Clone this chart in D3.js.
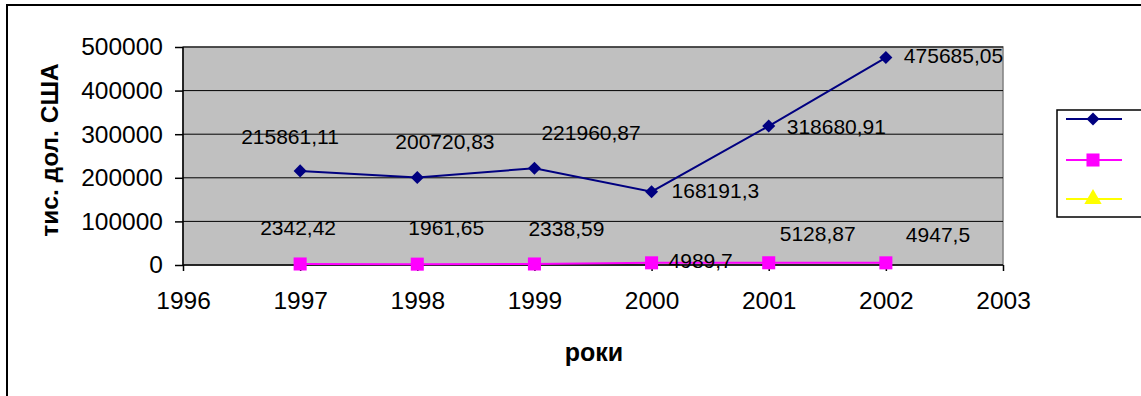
<!DOCTYPE html>
<html><head><meta charset="utf-8">
<script src="https://cdn.jsdelivr.net/npm/d3@7"></script>
<style>body{margin:0;background:#fff}svg{display:block}text{font-family:"Liberation Sans",Arial,sans-serif}</style>
</head><body>
<svg id="c" width="1141" height="396"></svg>
<script>
const years = [1997, 1998, 1999, 2000, 2001, 2002];
const seriesA = [215861.11, 200720.83, 221960.87, 168191.3, 318680.91, 475685.05];
const seriesB = [2342.42, 1961.65, 2338.59, 4989.7, 5128.87, 4947.5];
const seriesC = [];
const labelsA = ["215861,11", "200720,83", "221960,87", "168191,3", "318680,91", "475685,05"];
const labelsB = ["2342,42", "1961,65", "2338,59", "4989,7", "5128,87", "4947,5"];
const xTicks = [1996, 1997, 1998, 1999, 2000, 2001, 2002, 2003];
const yTicks = [0, 100000, 200000, 300000, 400000, 500000];
const yTitle = "тис. дол. США";
const xTitle = "роки";

// label placement offsets (layout only)
const offA = [[-59,-34],[-22,-36],[7,-36],[20,-1],[18,0],[18,-2]];
const offB = [[-40,-36],[-9,-37],[-6,-35],[17,-2],[11,-29],[20,-28]];

const svg = d3.select("#c");
const L = 183, R = 1003, T = 47, B = 265;
const x = d3.scaleLinear().domain([1996, 2003]).range([L, R]);
const y = d3.scaleLinear().domain([0, 500000]).range([B, T]);

// outer frame
svg.append("rect").attr("x", 7).attr("y", 5).attr("width", 1145).attr("height", 400)
  .attr("fill", "#fff").attr("stroke", "#000").attr("stroke-width", 2);

// plot area
svg.append("rect").attr("x", L).attr("y", T).attr("width", R - L).attr("height", B - T)
  .attr("fill", "#C0C0C0").attr("stroke", "#808080").attr("stroke-width", 1.5);

// gridlines
svg.append("g").selectAll("line").data(yTicks.filter(d => d > 0)).join("line")
  .attr("x1", L).attr("x2", R).attr("y1", d => y(d)).attr("y2", d => y(d))
  .attr("stroke", "#000").attr("stroke-width", 1);

// axes
const yAxis = d3.axisLeft(y).tickValues(yTicks).tickFormat(d3.format("d")).tickSize(8).tickPadding(12);
const gy = svg.append("g").attr("transform", `translate(${L},0)`).call(yAxis);
gy.select(".domain").attr("stroke", "#000").attr("stroke-width", 1.5).attr("d", `M0,${T}V${B}`);
gy.selectAll(".tick line").attr("stroke", "#000").attr("stroke-width", 1.5);
gy.selectAll("text").attr("font-size", 24.5).attr("fill", "#000").attr("font-family", '"Liberation Sans",Arial,sans-serif');

const xAxis = d3.axisBottom(x).tickValues(xTicks).tickFormat(d3.format("d")).tickSize(6).tickPadding(21);
const gx = svg.append("g").attr("transform", `translate(0,${B})`).call(xAxis);
gx.select(".domain").attr("stroke", "#000").attr("stroke-width", 1.5).attr("d", `M${L},0H${R}`);
gx.selectAll(".tick line").attr("stroke", "#000").attr("stroke-width", 1.5);
gx.selectAll("text").attr("font-size", 24.5).attr("fill", "#000").attr("font-family", '"Liberation Sans",Arial,sans-serif');

// titles
svg.append("text").attr("transform", `translate(49,150) rotate(-90)`).attr("text-anchor", "middle")
  .attr("dominant-baseline", "central").attr("font-size", 24.5).attr("font-weight", "bold").text(yTitle);
svg.append("text").attr("x", 594).attr("y", 352).attr("text-anchor", "middle")
  .attr("dominant-baseline", "central").attr("font-size", 25).attr("font-weight", "bold").text(xTitle);

const line = d3.line().x(d => x(d[0])).y(d => y(d[1]));
const dA = years.map((yr, i) => [yr, seriesA[i]]);
const dB = years.map((yr, i) => [yr, seriesB[i]]);
const dC = seriesC.map((v, i) => [years[i], v]);

const diamond = d3.symbol().type(d3.symbolSquare).size(85);
const square = d3.symbol().type(d3.symbolSquare).size(170);
const tri = d3.symbol().type(d3.symbolTriangle).size(130);

function series(data, color, sym, rot) {
  const g = svg.append("g");
  g.append("path").datum(data).attr("d", line).attr("fill", "none").attr("stroke", color).attr("stroke-width", 2);
  g.selectAll("path.m").data(data).join("path").attr("class", "m")
    .attr("d", sym).attr("fill", color)
    .attr("transform", d => `translate(${x(d[0])},${y(d[1])}) rotate(${rot})`);
}
series(dB, "#FF00FF", square, 0);
series(dC, "#FFFF00", tri, 0);
series(dA, "#000080", diamond, 45);

function labels(data, txt, off) {
  svg.append("g").selectAll("text").data(data).join("text")
    .attr("x", (d, i) => x(d[0]) + off[i][0]).attr("y", (d, i) => y(d[1]) + off[i][1])
    .attr("dominant-baseline", "central").attr("font-size", 21).attr("fill", "#000")
    .text((d, i) => txt[i]);
}
labels(dA, labelsA, offA);
labels(dB, labelsB, offB);

// legend
const lg = svg.append("g");
lg.append("rect").attr("x", 1057).attr("y", 110).attr("width", 90).attr("height", 107)
  .attr("fill", "#fff").attr("stroke", "#000").attr("stroke-width", 1.5);
const leg = [["#000080", diamond, 45, 119], ["#FF00FF", square, 0, 160], ["#FFFF00", tri, 0, 199]];
leg.forEach(([c, s, r, yy]) => {
  lg.append("line").attr("x1", 1066).attr("x2", 1122).attr("y1", yy).attr("y2", yy).attr("stroke", c).attr("stroke-width", 2);
  lg.append("path").attr("d", s()).attr("fill", c).attr("transform", `translate(1093,${yy}) rotate(${r})`);
});
</script>
</body></html>
